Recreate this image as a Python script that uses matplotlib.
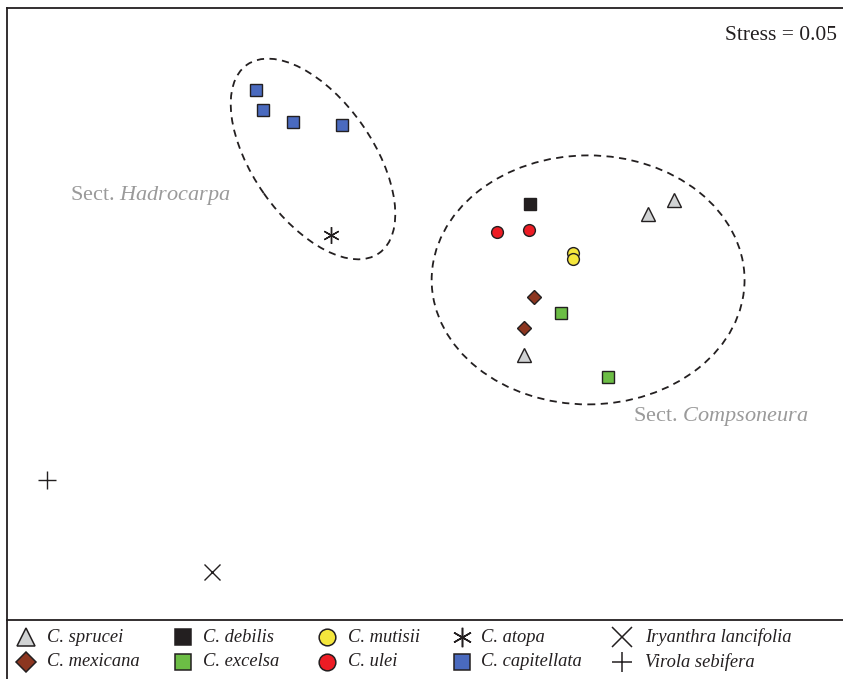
import matplotlib
matplotlib.use('Agg')
import matplotlib.pyplot as plt
from matplotlib.patches import Ellipse

plt.rcParams['font.family'] = ['Liberation Serif', 'DejaVu Serif']
plt.rcParams['mathtext.fontset'] = 'custom'
plt.rcParams['mathtext.rm'] = 'Liberation Serif'
plt.rcParams['mathtext.it'] = 'Liberation Serif:italic'

# NMDS scores per taxon (axis 1, axis 2)
sprucei_x = [0.827, 0.913, 0.413]
sprucei_y = [0.387, 0.433, -0.083]
mexicana_x = [0.447, 0.413]
mexicana_y = [0.110, 0.007]
debilis_x = [0.433]
debilis_y = [0.420]
excelsa_x = [0.537, 0.693]
excelsa_y = [0.057, -0.157]
mutisii_x = [0.577, 0.577]
mutisii_y = [0.257, 0.237]
ulei_x = [0.323, 0.430]
ulei_y = [0.327, 0.333]
atopa_x = [-0.230]
atopa_y = [0.317]
capitellata_x = [-0.480, -0.457, -0.357, -0.193]
capitellata_y = [0.800, 0.733, 0.693, 0.683]
iryanthra_x = [-0.627]
iryanthra_y = [-0.807]
virola_x = [-1.177]
virola_y = [-0.500]

stress = 0.05

# section groupings: centre, width, height, angle
hadrocarpa_ell = ((-0.29, 0.57), 0.767, 0.40, -55)
compsoneura_ell = ((0.627, 0.167), 1.043, 0.83, 0)

# name, x, y, marker style, legend marker size
taxa = [
    ('C. sprucei', sprucei_x, sprucei_y, dict(marker='^', ms=10, mfc='#d1d3d4', mec='#231f20'), 13),
    ('C. mexicana', mexicana_x, mexicana_y, dict(marker='D', ms=7.5, mfc='#8c3620', mec='#231f20'), 10),
    ('C. debilis', debilis_x, debilis_y, dict(marker='s', ms=8.5, mfc='#231f20', mec='#231f20'), 11.5),
    ('C. excelsa', excelsa_x, excelsa_y, dict(marker='s', ms=8, mfc='#6cbd45', mec='#231f20'), 11.5),
    ('C. mutisii', mutisii_x, mutisii_y, dict(marker='o', ms=8.5, mfc='#f4e63c', mec='#231f20'), 12),
    ('C. ulei', ulei_x, ulei_y, dict(marker='o', ms=8.5, mfc='#ed1c24', mec='#231f20'), 12),
    ('C. atopa', atopa_x, atopa_y, dict(marker=(6, 2, 0), ms=12, mfc='none', mec='#231f20'), 14),
    ('C. capitellata', capitellata_x, capitellata_y, dict(marker='s', ms=8, mfc='#4a6abf', mec='#231f20'), 11.5),
    ('Iryanthra lancifolia', iryanthra_x, iryanthra_y, dict(marker='x', ms=12, mfc='none', mec='#231f20'), 14),
    ('Virola sebifera', virola_x, virola_y, dict(marker='+', ms=13, mfc='none', mec='#231f20'), 15),
]

W, H = 843, 679
fig = plt.figure(figsize=(W / 100, H / 100), dpi=100)

left, top, bottom = 7, 8, 620
ax = fig.add_axes([left / W, (H - bottom) / H, (850 - left) / W, (bottom - top) / H])
ax.set_xlim(-1.31, 1.5)
ax.set_ylim(-0.9667, 1.0733)
ax.set_xticks([])
ax.set_yticks([])
for sp in ax.spines.values():
    sp.set_linewidth(1.3)
    sp.set_color('#231f20')

for (c, w, h, a) in (hadrocarpa_ell, compsoneura_ell):
    ax.add_patch(Ellipse(c, w, h, angle=a, fill=False, ls=(0, (4, 3)),
                         lw=1.3, ec='#231f20'))

for name, xs, ys, st, _ in taxa:
    ax.plot(xs, ys, ls='none', mew=1.0, zorder=3, **st)

ax.text(-0.833, 0.447, r'Sect. $\mathit{Hadrocarpa}$', fontsize=16,
        color='#9a9a9a', ha='center', va='center')
ax.text(1.070, -0.290, r'Sect. $\mathit{Compsoneura}$', fontsize=16,
        color='#9a9a9a', ha='center', va='center')
ax.text(1.457, 0.98, f'Stress = {stress:.2f}', fontsize=15.5, ha='right',
        va='center', color='#231f20')

# legend strip below the ordination
lax = fig.add_axes([0, 0, 1, (H - bottom) / H])
lax.set_xlim(0, W)
lax.set_ylim(H, bottom)
lax.axis('off')
lax.plot([left, left], [bottom, H], color='#231f20', lw=1.3)

col_x = [26, 183, 327, 462, 622]
text_dx = [21, 20, 21, 19, 23]
row_y = [637, 662]
for i, (name, xs, ys, st, lms) in enumerate(taxa):
    c, r = divmod(i, 2)
    st = dict(st, ms=lms)
    lax.plot([col_x[c]], [row_y[r]], ls='none', mew=1.1, **st)
    lax.text(col_x[c] + text_dx[c], row_y[r], name, fontsize=13.3,
             style='italic', va='center', ha='left', color='#231f20')

fig.savefig('out.png', dpi=100)
